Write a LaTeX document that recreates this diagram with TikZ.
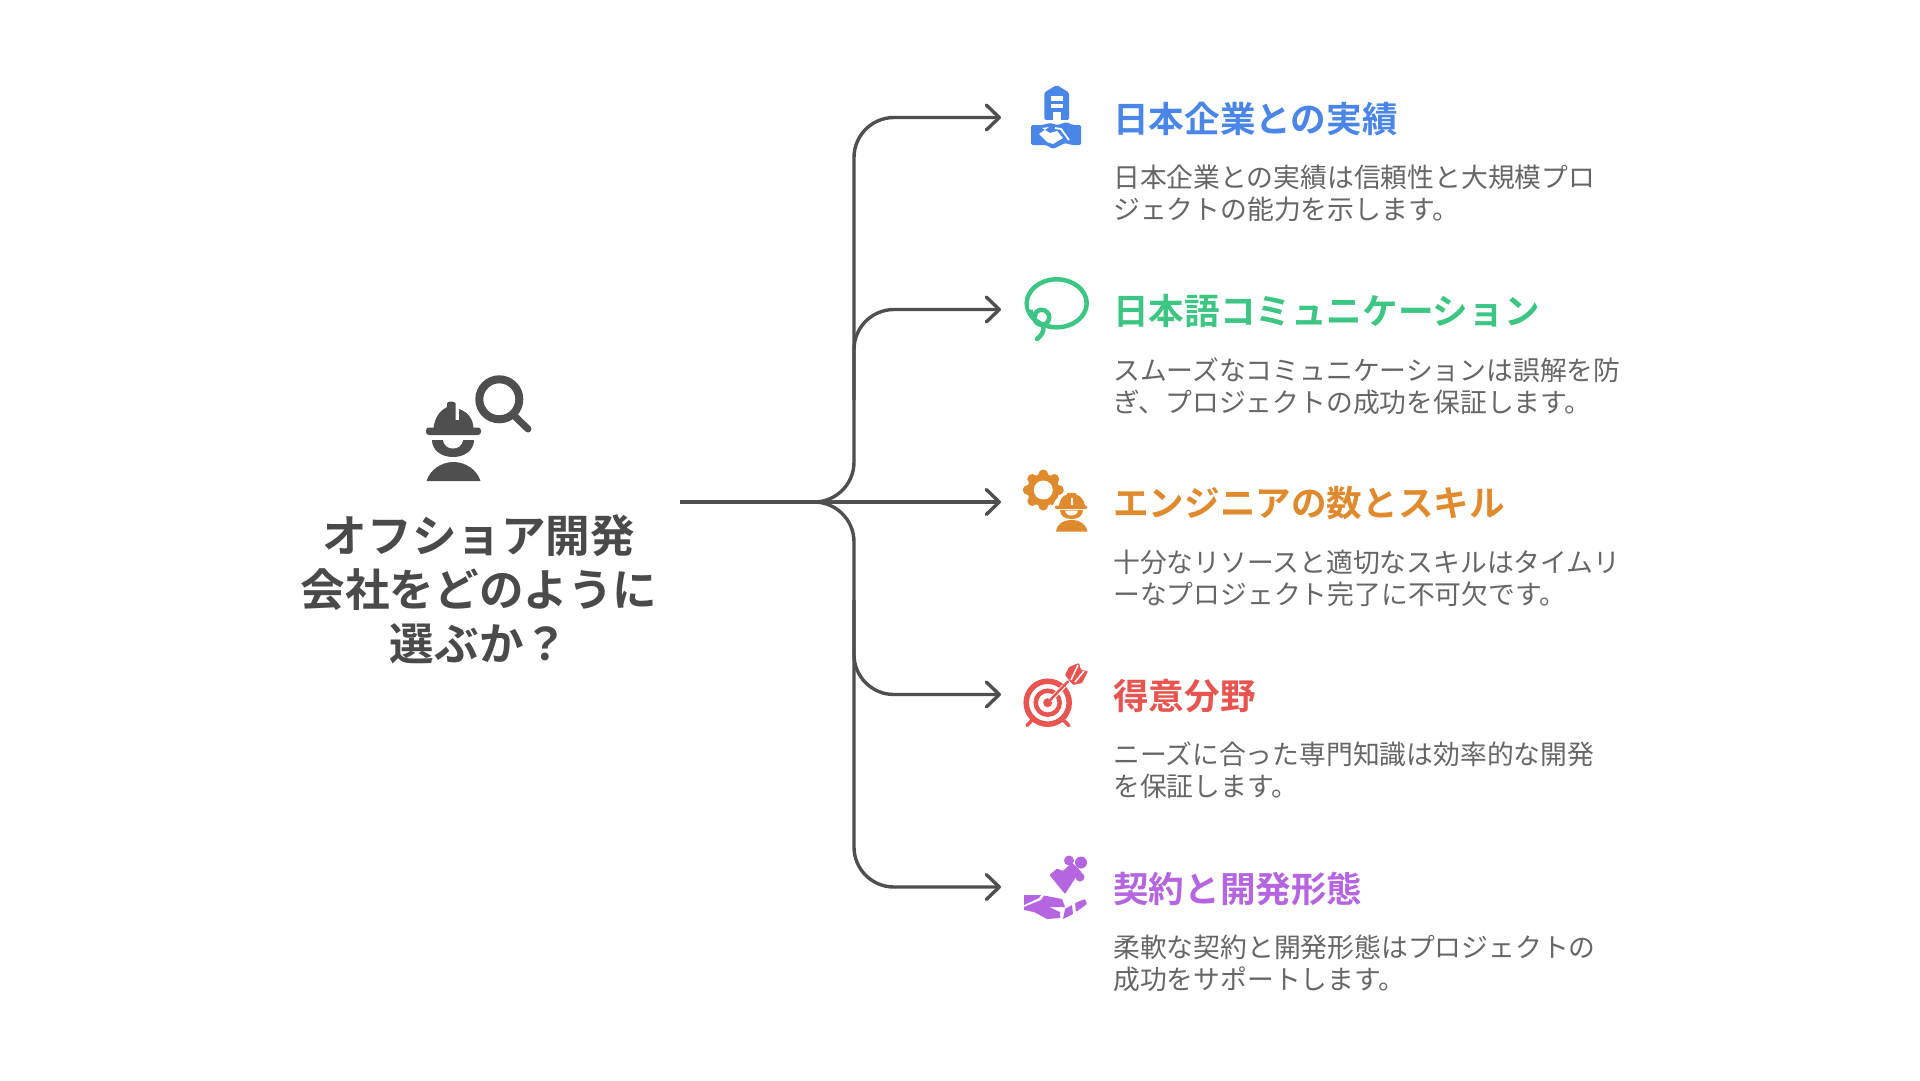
\documentclass[tikz,border=0pt]{standalone}
\usepackage{fontspec}
\setmainfont{Noto Sans CJK JP}[BoldFont={Noto Sans CJK JP Bold}]
\usetikzlibrary{arrows.meta}
\definecolor{linec}{HTML}{4F4F4F}
\definecolor{titlec}{HTML}{4A4A4A}
\definecolor{descc}{HTML}{666666}
\definecolor{bluec}{HTML}{4A86E8}
\definecolor{greenc}{HTML}{3CC583}
\definecolor{orangec}{HTML}{E08A2E}
\definecolor{redc}{HTML}{E8544F}
\definecolor{purplec}{HTML}{B565E0}
\tikzset{
  conn/.style={draw=linec,line width=3.4pt,line join=round},
  tipped/.style={conn,-{Straight Barb[length=13pt,width=25pt,line width=3.4pt,round]}},
  curve/.style={rounded corners=40pt},
  head/.style={anchor=west,inner sep=0pt,font=\fontsize{35.6}{35.6}\selectfont\bfseries},
  desc/.style={anchor=north west,inner sep=0pt,text=descc,align=left,font=\fontsize{26.8}{32}\selectfont},
  maintitle/.style={inner sep=0pt,text=titlec,align=center,font=\fontsize{44.6}{54}\selectfont\bfseries}
}
\begin{document}
\begin{tikzpicture}[x=1pt,y=-1pt]
\useasboundingbox (0,0) rectangle (1920,1080);
\fill[white] (0,0) rectangle (1920,1080);
% connectors
\coordinate (src) at (680,502);
\coordinate (hub) at (813,502);
\coordinate (cup) at (854,502);
\coordinate (v2) at (854,400);
\coordinate (v4) at (854,600);
\coordinate (c1) at (854,117.5);
\coordinate (c2) at (854,309.5);
\coordinate (c4) at (854,694.5);
\coordinate (c5) at (854,887);
\coordinate (t1) at (1001,117.5);
\coordinate (t2) at (1001,309.5);
\coordinate (t3) at (1001,502);
\coordinate (t4) at (1001,694.5);
\coordinate (t5) at (1001,887);
\draw[conn] (src) -- (hub);
\draw[tipped] (hub) -- (t3);
\draw[tipped,curve] (hub) -- (cup) -- (c1) -- (t1);
\draw[tipped,curve] (v2) -- (c2) -- (t2);
\draw[tipped,curve] (hub) -- (cup) -- (c5) -- (t5);
\draw[tipped,curve] (v4) -- (c4) -- (t4);
% main title
\node[maintitle] (main) at (479,589.5) {オフショア開発\\会社をどのように\\選ぶか？};
% headings and descriptions
\node[head,text=bluec] (h1) at (1113,118.5) {日本企業との実績};
\node[desc] (d1) at (1113,165) {日本企業との実績は信頼性と大規模プロ\\ジェクトの能力を示します。};
\node[head,text=greenc] (h2) at (1113,311) {日本語コミュニケーション};
\node[desc] (d2) at (1113,357.5) {スムーズなコミュニケーションは誤解を防\\ぎ、プロジェクトの成功を保証します。};
\node[head,text=orangec] (h3) at (1113,503.5) {エンジニアの数とスキル};
\node[desc] (d3) at (1113,550) {十分なリソースと適切なスキルはタイムリ\\ーなプロジェクト完了に不可欠です。};
\node[head,text=redc] (h4) at (1113,696) {得意分野};
\node[desc] (d4) at (1113,742) {ニーズに合った専門知識は効率的な開発\\を保証します。};
\node[head,text=purplec] (h5) at (1113,888.5) {契約と開発形態};
\node[desc] (d5) at (1113,935) {柔軟な契約と開発形態はプロジェクトの\\成功をサポートします。};
% main icon
\draw[linec,line width=8pt] (499.3,399.3) circle (20pt);
\draw[linec,line width=7pt,line cap=round] (515,416.5) -- (528,429);
\fill[linec,rounded corners=3pt] (426,427.5) rectangle (481,435);
\fill[linec] (433.5,428) .. controls (435,416) and (441,410) .. (447,407) -- (447,403) .. controls (449,401) and (453,401) .. (455.5,403) -- (455.5,420) -- (459,420) -- (459,409) .. controls (468,412) and (473,419) .. (473.5,428) -- cycle;
\fill[linec] (432,440) -- (474,440) .. controls (474,450) and (465,457) .. (453,457) .. controls (441,457) and (432,450) .. (432,440) -- cycle;
\fill[white] (442.7,439) -- (463.3,439) .. controls (462,446) and (458,448.5) .. (453,448.5) .. controls (448,448.5) and (444,446) .. (442.7,439) -- cycle;
\fill[linec] (426.5,481) .. controls (430,470) and (441,462) .. (453.5,462) .. controls (466,462) and (477,470) .. (480.5,481) -- cycle;
% blue icon
\fill[bluec,rounded corners=1.5pt] (1056.7,85) -- (1069,92.5) -- (1069,120) -- (1044.3,120) -- (1044.3,92.5) -- cycle;
\fill[white] (1051,96) rectangle (1063,100.5);
\fill[white] (1051,103.5) rectangle (1063,107.5);
\fill[white] (1052.5,111.5) rectangle (1060.5,121);
\draw[white,line width=2.5pt] (1034,121) -- (1078,121);
\fill[bluec,rounded corners=1.5pt] (1031,125) -- (1042,125) -- (1050,123) -- (1058,125) -- (1066,122) -- (1073,125) -- (1081,125) -- (1081,145) -- (1072,145) -- (1065,143) -- (1053,149) -- (1046,145) -- (1041,145) -- (1031,145) -- cycle;
\fill[white] (1042,128) -- (1049,127) -- (1039,134) -- (1047,142) -- (1053,144) -- (1063,138) -- (1057,131) -- (1050,133) -- cycle;
\draw[white,line width=1.8pt] (1055,128) -- (1061,129) -- (1069,140);
% green icon
\draw[greenc,line width=4.5pt] (1056.7,303.3) ellipse (30pt and 24pt);
\fill[white] (1029,309) rectangle (1040,306);
\draw[greenc,line width=4.5pt] (1041.7,317.3) circle (7.5pt);
\draw[greenc,line width=4.5pt,line cap=round] (1043.5,326) .. controls (1044,332) and (1041,336) .. (1037,339);
\draw[greenc,line width=4.5pt] (1030.5,310) .. controls (1032,318) and (1034,318) .. (1036,314);
% orange icon
\foreach \a in {0,45,...,315}{\fill[orangec] (1043.3,490) ++(\a:15.5pt) circle (5pt);}
\fill[orangec] (1043.3,490) circle (16pt);
\fill[white] (1043.3,490) circle (9.5pt);
\fill[white] (1071.7,512) circle (20pt);
\fill[orangec,rounded corners=1.2pt] (1055,505.5) rectangle (1087,509);
\fill[orangec] (1059,506) .. controls (1060,498) and (1063,496) .. (1067,494.5) -- (1067,493) -- (1076,493) -- (1076,494.5) .. controls (1081,496) and (1084,500) .. (1085,506) -- cycle;
\fill[white] (1071,498) rectangle (1073,505);
\fill[orangec] (1060,510) -- (1083,510) .. controls (1083,516) and (1078,519) .. (1071.7,519) .. controls (1065,519) and (1060,516) .. (1060,510) -- cycle;
\fill[white] (1065,510.5) -- (1078,510.5) .. controls (1077,514) and (1075,515.5) .. (1071.7,515.5) .. controls (1068,515.5) and (1066,514) .. (1065,510.5) -- cycle;
\fill[orangec] (1056,531.7) .. controls (1057,524) and (1063,520) .. (1071.7,520) .. controls (1080,520) and (1086,524) .. (1087.5,531.7) -- cycle;
% red icon
\draw[redc,line width=3.5pt,line cap=round] (1034,718) -- (1027,725.5);
\draw[redc,line width=3.5pt,line cap=round] (1061,718) -- (1069,725.5);
\draw[redc,line width=5.5pt] (1047.7,702.7) circle (21.5pt);
\draw[redc,line width=4.5pt] (1047.7,702.7) circle (12pt);
\fill[redc] (1047.7,702.7) circle (4.5pt);
\draw[white,line width=4.5pt] (1050,700.5) -- (1064,686);
\draw[redc,line width=2.5pt,line cap=round] (1047.7,702.7) -- (1068,681.5);
\fill[redc,rounded corners=1pt] (1065,675) -- (1069,667) -- (1079,663) -- (1081,670) -- (1088,671) -- (1082,683) -- (1073,685) -- cycle;
\draw[white,line width=1.5pt] (1071,680) -- (1078,665);
\draw[white,line width=1.5pt] (1075,682) -- (1084,671);
% purple icon
\fill[purplec,rounded corners=0.8pt] (1049.5,875) -- (1057,868.5) -- (1063,871) -- (1066,868) -- (1072,863) -- (1078,868) -- (1082,873) -- (1076,877) -- (1065,894) -- cycle;
\fill[purplec] (1069,860.5) circle (5pt);
\fill[purplec] (1081,862.5) circle (6pt);
\fill[purplec] (1080,877) circle (4.5pt);
\fill[purplec] (1024,895) -- (1041,895) -- (1039,898) -- (1024,905) -- cycle;
\fill[purplec] (1024,907) -- (1041,900) -- (1044,895.5) -- (1062,899) -- (1065,907) -- (1049,907) -- (1060,912) -- (1060,918) -- (1047,919) -- (1034,912) -- (1024,910) -- cycle;
\fill[purplec] (1065,909) -- (1072,905) -- (1073,914) -- (1063,919) -- cycle;
\fill[purplec,rounded corners=1pt] (1075,903) -- (1085,899) -- (1087,904) -- (1076,912) -- cycle;
\end{tikzpicture}
\end{document}
